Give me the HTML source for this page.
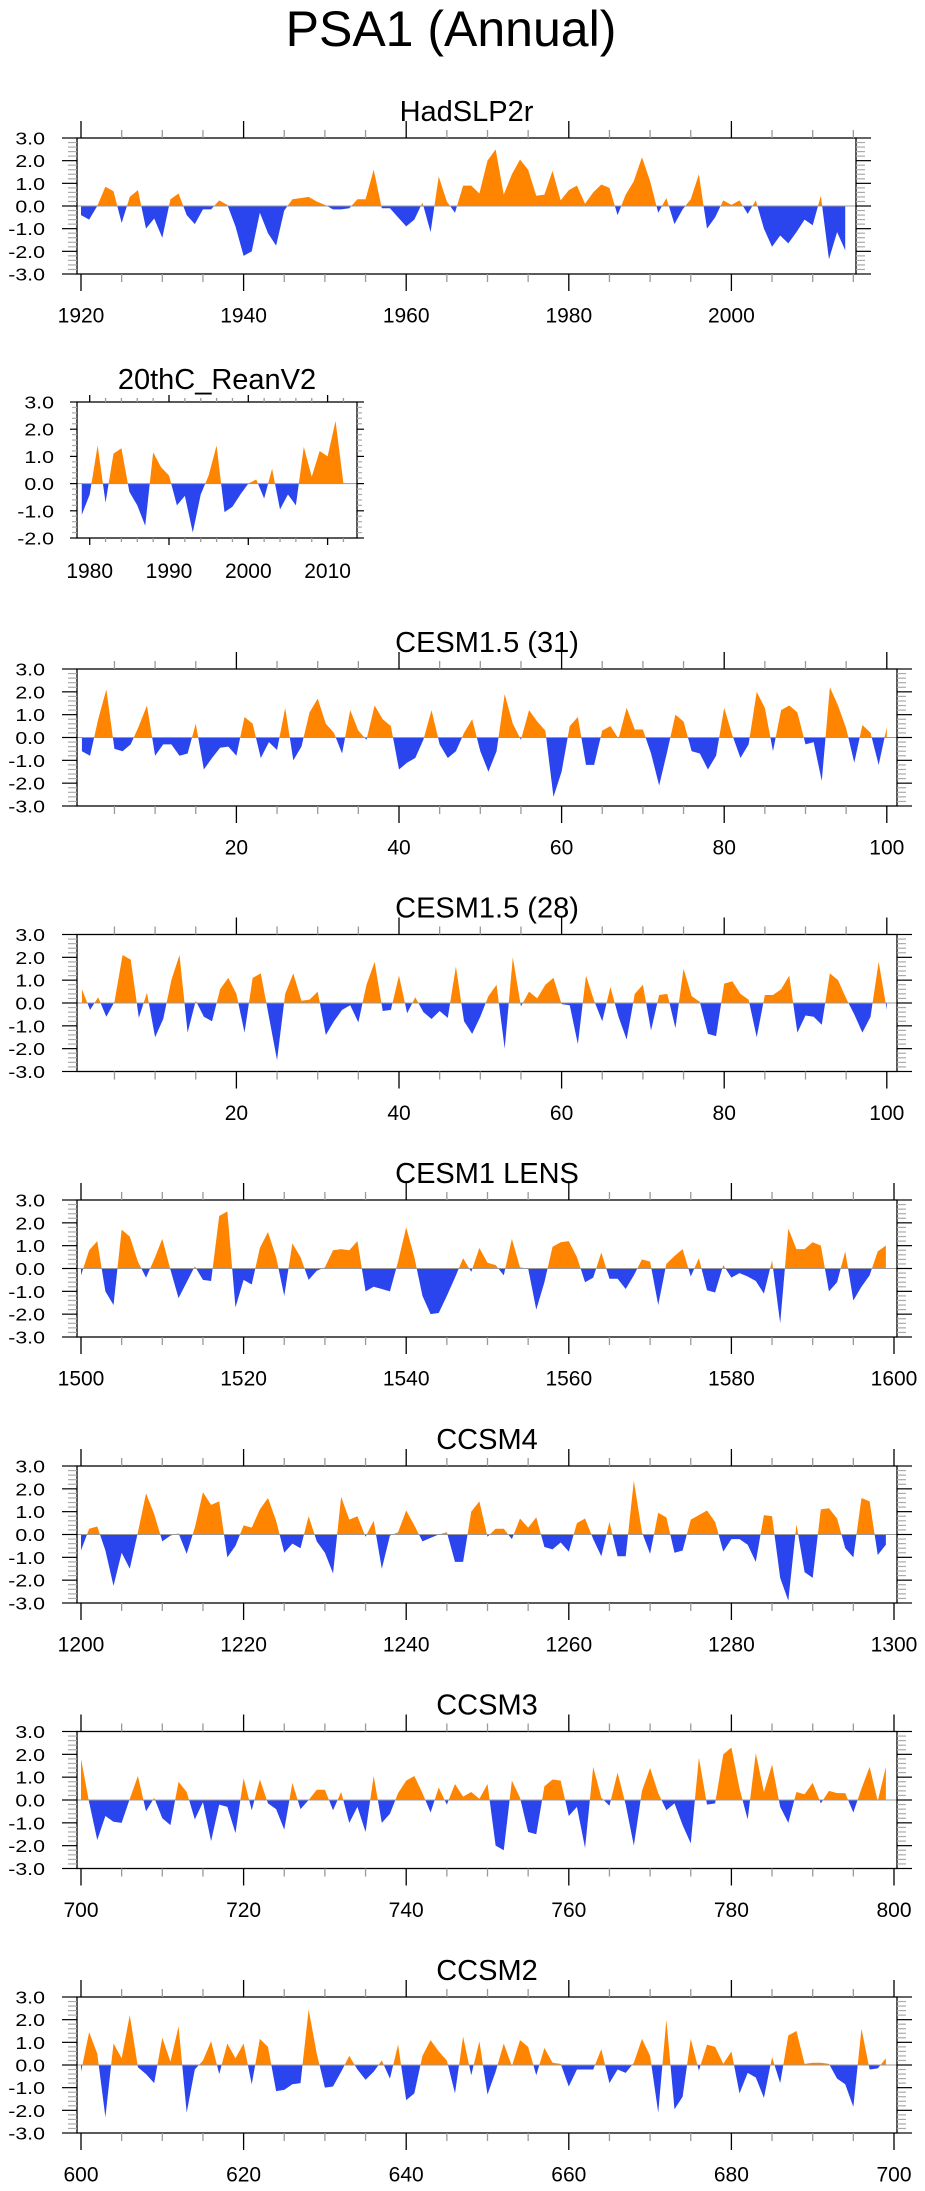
<!DOCTYPE html>
<html><head><meta charset="utf-8"><style>
html,body{margin:0;padding:0;background:#fff;}
svg{display:block;font-family:"Liberation Sans",Arial,sans-serif;}
</style></head><body>
<svg id="chart" width="925" height="2191" viewBox="0 0 925 2191" xmlns="http://www.w3.org/2000/svg">
<text x="451" y="46" font-size="50" text-anchor="middle">PSA1 (Annual)</text>
</svg>
<script>
const hadStart = 1920;
const hadValues = [-0.4,-0.6,0.0,0.85,0.65,-0.75,0.4,0.7,-1.0,-0.55,-1.4,0.3,0.55,-0.4,-0.8,-0.15,-0.15,0.25,0.05,-0.9,-2.2,-2.0,-0.3,-1.2,-1.75,-0.2,0.3,0.35,0.4,0.2,0.05,-0.15,-0.15,-0.1,0.3,0.3,1.6,-0.1,-0.1,-0.5,-0.9,-0.6,0.15,-1.15,1.3,0.2,-0.3,0.9,0.9,0.55,2.0,2.5,0.5,1.4,2.05,1.6,0.45,0.5,1.55,0.25,0.7,0.9,0.1,0.6,0.95,0.8,-0.4,0.5,1.1,2.15,1.1,-0.3,0.35,-0.8,-0.15,0.3,1.4,-1.0,-0.5,0.25,0.05,0.25,-0.35,0.25,-1.0,-1.8,-1.3,-1.65,-1.15,-0.6,-0.85,0.45,-2.35,-1.15,-1.95];
const reanStart = 1979;
const reanValues = [-1.15,-0.4,1.4,-0.7,1.1,1.3,-0.3,-0.8,-1.55,1.15,0.6,0.3,-0.8,-0.45,-1.8,-0.4,0.3,1.4,-1.05,-0.85,-0.4,0.0,0.15,-0.55,0.55,-0.95,-0.4,-0.8,1.35,0.25,1.2,1.0,2.3,0.0];
const cesm31Start = 1;
const cesm31Values = [-0.6,-0.8,0.8,2.1,-0.5,-0.6,-0.3,0.5,1.4,-0.8,-0.3,-0.3,-0.8,-0.7,0.6,-1.4,-0.9,-0.45,-0.4,-0.8,0.9,0.6,-0.9,-0.2,-0.55,1.3,-1.0,-0.4,1.1,1.7,0.6,0.2,-0.7,1.2,0.3,-0.1,1.4,0.8,0.5,-1.4,-1.1,-0.9,-0.1,1.2,-0.3,-0.9,-0.6,0.2,0.8,-0.6,-1.5,-0.6,1.9,0.6,-0.1,1.2,0.7,0.3,-2.6,-1.5,0.5,0.9,-1.2,-1.2,0.3,0.5,-0.05,1.3,0.35,0.35,-0.7,-2.1,-0.6,1.0,0.7,-0.6,-0.7,-1.4,-0.8,1.3,0.1,-0.9,-0.3,2.0,1.3,-0.6,1.2,1.4,1.1,-0.3,-0.2,-1.9,2.2,1.4,0.4,-1.1,0.55,0.2,-1.2,0.45];
const cesm28Start = 1;
const cesm28Values = [0.6,-0.3,0.25,-0.6,0.05,2.1,1.9,-0.65,0.45,-1.5,-0.7,1.0,2.1,-1.3,0.1,-0.6,-0.8,0.6,1.1,0.4,-1.3,1.1,1.3,-0.6,-2.5,0.4,1.3,0.1,0.15,0.5,-1.4,-0.8,-0.3,-0.1,-0.85,0.8,1.8,-0.35,-0.3,1.2,-0.45,0.25,-0.4,-0.7,-0.35,-0.65,1.6,-0.8,-1.35,-0.6,0.3,0.8,-2.0,2.0,-0.15,0.5,0.2,0.8,1.1,-0.05,-0.1,-1.8,1.2,0.1,-0.8,0.7,-0.6,-1.6,0.4,0.8,-1.2,0.35,0.4,-1.1,1.5,0.3,0.05,-1.35,-1.45,0.85,0.95,0.4,0.15,-1.5,0.35,0.35,0.6,1.2,-1.3,-0.55,-0.6,-0.95,1.3,1.0,0.2,-0.5,-1.3,-0.6,1.8,-0.3];
const lensStart = 1500;
const lensValues = [-0.3,0.8,1.2,-1.0,-1.6,1.7,1.4,0.3,-0.4,0.4,1.3,-0.05,-1.3,-0.6,0.1,-0.5,-0.55,2.3,2.5,-1.7,-0.5,-0.7,0.9,1.6,0.5,-1.2,1.1,0.5,-0.5,-0.1,0.05,0.8,0.85,0.8,1.2,-1.0,-0.8,-0.9,-1.0,0.3,1.8,0.5,-1.2,-2.0,-1.95,-1.2,-0.4,0.45,-0.15,0.9,0.25,0.15,-0.3,1.3,0.05,0.0,-1.8,-0.6,0.95,1.15,1.2,0.5,-0.6,-0.4,0.7,-0.45,-0.45,-0.9,-0.3,0.4,0.3,-1.6,0.2,0.55,0.85,-0.35,0.45,-0.95,-1.05,0.15,-0.4,-0.2,-0.35,-0.55,-1.1,0.35,-2.4,1.75,0.85,0.85,1.15,1.0,-1.0,-0.6,0.75,-1.4,-0.8,-0.3,0.75,1.0];
const ccsm4Start = 1200;
const ccsm4Values = [-0.7,0.25,0.35,-0.7,-2.25,-0.8,-1.5,0.1,1.8,0.9,-0.3,-0.05,0.05,-0.85,0.3,1.85,1.3,1.45,-1.0,-0.5,0.4,0.3,1.1,1.6,0.6,-0.8,-0.4,-0.6,0.8,-0.3,-0.8,-1.7,1.65,0.65,0.8,-0.1,0.6,-1.5,-0.05,0.1,1.05,0.4,-0.3,-0.15,0.0,0.1,-1.2,-1.2,1.0,1.45,-0.1,0.25,0.25,-0.2,0.7,0.3,0.75,-0.55,-0.65,-0.35,-0.75,0.5,0.7,-0.2,-0.95,0.55,-0.95,-0.95,2.35,0.1,-0.85,0.95,0.75,-0.8,-0.7,0.65,0.85,1.05,0.55,-0.75,-0.2,-0.2,-0.45,-1.2,0.85,0.8,-1.9,-2.9,0.45,-1.65,-1.9,1.1,1.15,0.7,-0.6,-1.0,1.6,1.45,-0.9,-0.45];
const ccsm3Start = 700;
const ccsm3Values = [1.8,-0.1,-1.75,-0.7,-0.95,-1.0,0.05,1.05,-0.5,0.1,-0.8,-1.1,0.8,0.35,-0.85,-0.1,-1.8,-0.2,-0.3,-1.45,0.95,-0.45,0.9,-0.15,-0.4,-1.3,0.75,-0.4,0.0,0.45,0.45,-0.45,0.35,-1.0,-0.3,-1.4,1.05,-1.0,-0.6,0.3,0.85,1.05,0.3,-0.55,0.55,-0.2,0.7,0.15,0.35,0.05,0.7,-2.0,-2.2,0.85,0.1,-1.4,-1.5,0.6,0.9,0.85,-0.7,-0.3,-2.1,1.45,0.1,-0.25,1.2,-0.2,-2.0,0.4,1.4,0.3,-0.45,-0.15,-1.1,-1.9,1.85,-0.2,-0.15,2.0,2.3,0.5,-0.85,2.05,0.35,1.55,-0.3,-1.0,0.35,0.25,0.75,-0.15,0.4,0.3,0.3,-0.55,0.5,1.45,-0.05,1.45];
const ccsm2Start = 600;
const ccsm2Values = [-0.3,1.45,0.5,-2.3,0.95,0.3,2.2,-0.1,-0.4,-0.8,1.2,0.15,1.7,-2.1,-0.2,0.2,1.05,-0.4,0.95,0.3,0.95,-0.85,1.15,0.8,-1.15,-1.1,-0.85,-0.8,2.45,0.5,-1.0,-0.95,-0.3,0.4,-0.2,-0.65,-0.3,0.2,-0.6,0.9,-1.55,-1.25,0.4,1.1,0.6,0.2,-1.25,1.25,-0.45,1.05,-1.3,-0.3,0.95,-0.05,1.1,0.8,-0.45,0.75,0.1,0.05,-0.95,-0.2,-0.2,-0.2,0.7,-0.8,-0.2,-0.35,0.1,1.15,0.4,-2.1,2.0,-1.95,-1.4,1.15,-0.25,0.9,0.8,0.05,0.6,-1.25,-0.35,-0.55,-1.45,0.35,-0.8,1.3,1.5,0.05,0.1,0.1,0.05,-0.6,-0.85,-1.85,1.6,-0.2,-0.15,0.3];

const svg = document.getElementById('chart');
const NS = 'http://www.w3.org/2000/svg';
function mk(tag, attrs, parent) {
  const e = document.createElementNS(NS, tag);
  for (const k in attrs) e.setAttribute(k, attrs[k]);
  parent.appendChild(e);
  return e;
}
const main = {left:77, right:897, h:137, ymin:-3, ymax:3, major:20, minor:5, maj:17, min:8, ytick:15, ymin2:9, ylab:45, xlabOff:48.5, titleOff:17, ppy:8.13};
const panels = [
  Object.assign({}, main, {key:'hadslp2r', title:'HadSLP2r', start:hadStart, values:hadValues, top:138, h:136, right:856, refYear:1920, refX:81, ppy:8.13}),
  Object.assign({}, main, {key:'20thc-reanv2', title:'20thC_ReanV2', start:reanStart, values:reanValues, top:402, h:136, right:357, refYear:1980, refX:89.7, ppy:7.93, ymin:-2, major:10, minor:2, maj:7, min:4, ytick:7, ymin2:5, ylab:54, xlabOff:40, titleOff:13}),
  Object.assign({}, main, {key:'cesm15-31', title:'CESM1.5 (31)', start:cesm31Start, values:cesm31Values, top:669, refYear:0, refX:73.8}),
  Object.assign({}, main, {key:'cesm15-28', title:'CESM1.5 (28)', start:cesm28Start, values:cesm28Values, top:934.5, refYear:0, refX:73.8}),
  Object.assign({}, main, {key:'cesm1-lens', title:'CESM1 LENS', start:lensStart, values:lensValues, top:1200, refYear:1500, refX:81}),
  Object.assign({}, main, {key:'ccsm4', title:'CCSM4', start:ccsm4Start, values:ccsm4Values, top:1466, refYear:1200, refX:81}),
  Object.assign({}, main, {key:'ccsm3', title:'CCSM3', start:ccsm3Start, values:ccsm3Values, top:1731.5, refYear:700, refX:81}),
  Object.assign({}, main, {key:'ccsm2', title:'CCSM2', start:ccsm2Start, values:ccsm2Values, top:1997, h:136, refYear:600, refX:81})
];

panels.forEach(p => {
  const g = mk('g', {}, svg);
  
  
  const bottom = p.top + p.h;
  const xs = v => p.refX + (v - p.refYear) * p.ppy;
  const ys = v => p.top + (p.ymax - v) / (p.ymax - p.ymin) * p.h;
  const xmin = p.refYear + (p.left - p.refX) / p.ppy;
  const xmax = p.refYear + (p.right - p.refX) / p.ppy;

  const t = mk('text', {x:(p.left+p.right)/2, y:p.top-p.titleOff, 'font-size':29, 'text-anchor':'middle'}, g);
  
  
  t.textContent = p.title;

  const pts = [];
  p.values.forEach((v, i) => {
    const x = p.start + i;
    if (i > 0) {
      const pv = p.values[i-1];
      if ((pv > 0 && v < 0) || (pv < 0 && v > 0)) {
        const f = pv / (pv - v);
        pts.push([x - 1 + f, 0]);
      }
    }
    pts.push([x, v]);
  });
  const x0 = xs(pts[0][0]), x1 = xs(pts[pts.length-1][0]);
  let posD = 'M' + x0 + ',' + ys(0);
  let negD = 'M' + x0 + ',' + ys(0);
  pts.forEach(q => {
    posD += 'L' + xs(q[0]).toFixed(2) + ',' + ys(Math.max(q[1],0)).toFixed(2);
    negD += 'L' + xs(q[0]).toFixed(2) + ',' + ys(Math.min(q[1],0)).toFixed(2);
  });
  posD += 'L' + x1 + ',' + ys(0) + 'Z';
  negD += 'L' + x1 + ',' + ys(0) + 'Z';
  const pos = mk('path', {d:posD, fill:'#ff8400'}, g);
  
  
  const neg = mk('path', {d:negD, fill:'#2b45ee'}, g);
  
  

  const zl = mk('line', {x1:p.left, x2:p.right, y1:ys(0), y2:ys(0), stroke:'#999', 'stroke-width':1}, g);
  
  

  const fr = mk('rect', {x:p.left, y:p.top, width:p.right-p.left, height:p.h, fill:'none', stroke:'#000', 'stroke-width':1.3}, g);
  
  

  for (let k = Math.round(p.ymin*5); k <= Math.round(p.ymax*5); k++) {
    const v = k / 5, y = ys(v);
    const isMaj = k % 5 === 0;
    const len = isMaj ? p.ytick : p.ymin2;
    const col = isMaj ? '#000' : '#aaa';
    mk('line', {x1:p.left-len, x2:p.left, y1:y, y2:y, stroke:col, 'stroke-width':1.2}, g);
    mk('line', {x1:p.right, x2:p.right+len, y1:y, y2:y, stroke:col, 'stroke-width':1.2}, g);
    if (isMaj) {
      const lt = mk('text', {transform:'translate(' + p.ylab + ',' + (y+6.5) + ') scale(1.22,1)', 'font-size':17.5, 'text-anchor':'end'}, g);
      
      
      lt.textContent = v.toFixed(1);
    }
  }
  const firstMinor = Math.ceil(xmin / p.minor) * p.minor;
  for (let v = firstMinor; v <= xmax; v += p.minor) {
    const x = xs(v);
    const isMaj = v % p.major === 0;
    const len = isMaj ? p.maj : p.min;
    const col = isMaj ? '#000' : '#999';
    mk('line', {x1:x, x2:x, y1:bottom, y2:bottom+len, stroke:col, 'stroke-width':1.3}, g);
    mk('line', {x1:x, x2:x, y1:p.top-len, y2:p.top, stroke:col, 'stroke-width':1.3}, g);
    if (isMaj && v > 0) {
      const lt = mk('text', {x:x, y:bottom+p.xlabOff, 'font-size':21, 'text-anchor':'middle'}, g);
      
      
      lt.textContent = String(v);
    }
  }
});
</script>
</body></html>
